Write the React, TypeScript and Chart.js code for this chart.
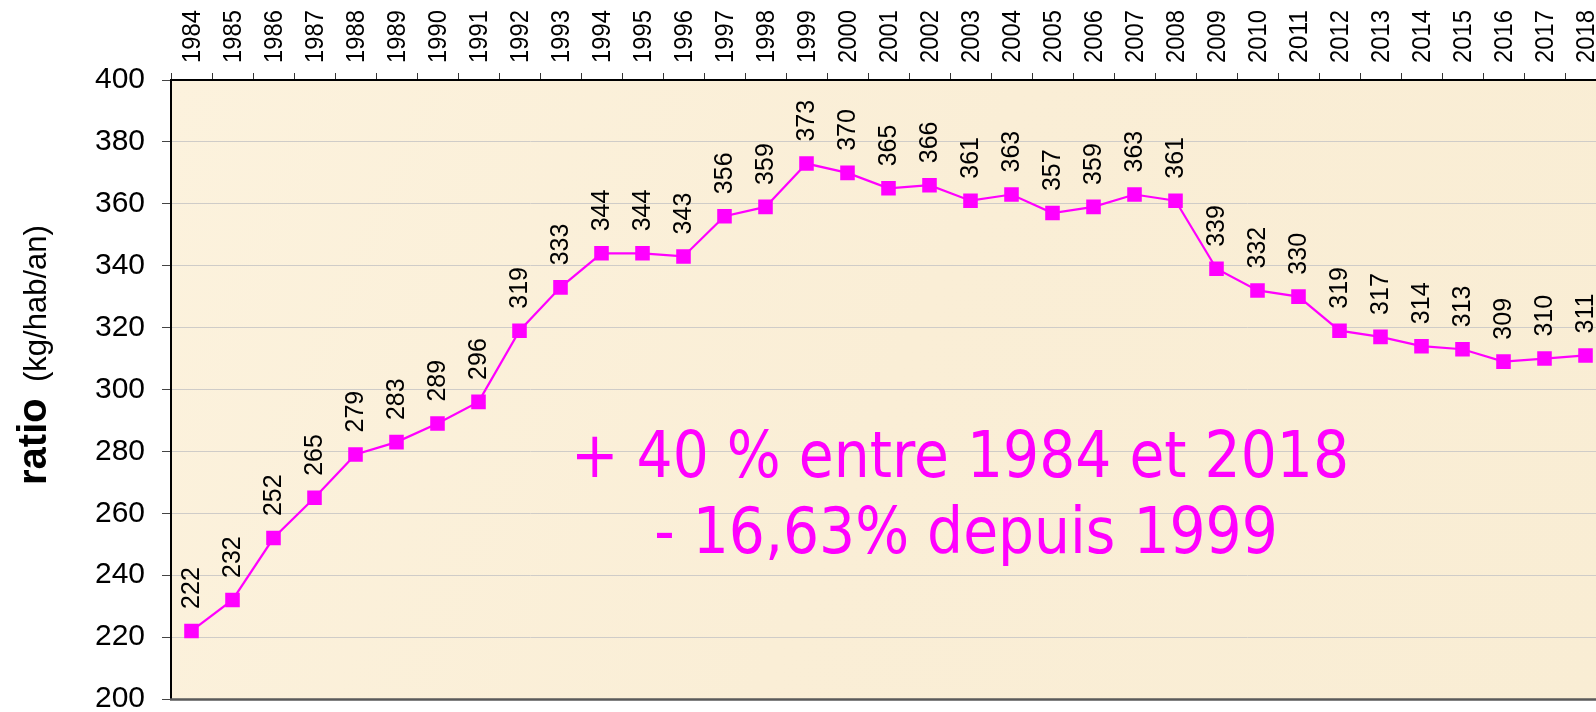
import React, { useEffect, useRef } from "react";
import { Chart, registerables } from "chart.js";

Chart.register(...registerables);

// ---- data ----
const years = [
  "1984", "1985", "1986", "1987", "1988", "1989", "1990", "1991", "1992", "1993",
  "1994", "1995", "1996", "1997", "1998", "1999", "2000", "2001", "2002", "2003",
  "2004", "2005", "2006", "2007", "2008", "2009", "2010", "2011", "2012", "2013",
  "2014", "2015", "2016", "2017", "2018",
];
const ratios = [
  222, 232, 252, 265, 279, 283, 289, 296, 319, 333,
  344, 344, 343, 356, 359, 373, 370, 365, 366, 361,
  363, 357, 359, 363, 361, 339, 332, 330, 319, 317,
  314, 313, 309, 310, 311,
];
const yMin = 200;
const yMax = 400;
const yStep = 20;
const noteLines = ["+ 40 % entre 1984 et 2018", "- 16,63% depuis 1999"];
const axisTitleBold = "ratio";
const axisTitleUnit = "(kg/hab/an)";

// ---- styles ----
const FONT = "'Liberation Sans', Arial, Helvetica, sans-serif";
const NOTE_FONT = "'DejaVu Sans', Verdana, sans-serif";
const MAGENTA = "#FF00FF";
const CW = 1620;
const CH = 712;

const backgroundPlugin = {
  id: "parchment",
  beforeDraw(chart: any) {
    const { ctx, chartArea: a } = chart;
    ctx.save();
    const g = ctx.createLinearGradient(a.left, a.top, a.right, a.bottom);
    g.addColorStop(0, "#FCF2DD");
    g.addColorStop(0.5, "#FAEED6");
    g.addColorStop(1, "#F9EDD4");
    ctx.fillStyle = g;
    ctx.fillRect(a.left, a.top, a.right - a.left, a.bottom - a.top);
    ctx.restore();
  },
};

const valueLabelPlugin = {
  id: "valueLabels",
  afterDatasetsDraw(chart: any) {
    const { ctx } = chart;
    const meta = chart.getDatasetMeta(0);
    ctx.save();
    ctx.font = `25px ${FONT}`;
    ctx.fillStyle = "#000";
    ctx.textAlign = "left";
    ctx.textBaseline = "middle";
    meta.data.forEach((pt: any, i: number) => {
      ctx.save();
      ctx.translate(pt.x + 1, pt.y - 22);
      ctx.rotate(-Math.PI / 2);
      ctx.fillText(String(Math.round(ratios[i])), 0, 0);
      ctx.restore();
    });
    ctx.restore();
  },
};

const decorPlugin = {
  id: "decor",
  afterDraw(chart: any) {
    const { ctx, chartArea: a } = chart;
    const xs = chart.scales.x;
    ctx.save();
    // bottom border
    ctx.strokeStyle = "#5a5a5a";
    ctx.lineWidth = 2.5;
    ctx.beginPath();
    ctx.moveTo(a.left - 1, a.bottom + 0.5);
    ctx.lineTo(a.right, a.bottom + 0.5);
    ctx.stroke();

    // category labels on the top axis (rotated)
    ctx.fillStyle = "#000";
    ctx.font = `26px ${FONT}`;
    ctx.textAlign = "left";
    ctx.textBaseline = "middle";
    years.forEach((yr, i) => {
      const x = xs.getPixelForValue(i);
      const w = ctx.measureText(yr).width;
      ctx.save();
      ctx.translate(x + 1, a.top - 17);
      ctx.rotate(-Math.PI / 2);
      ctx.scale(53 / w, 1);
      ctx.fillText(yr, 0, 0);
      ctx.restore();
    });

    // note text
    ctx.fillStyle = MAGENTA;
    ctx.font = `64px ${NOTE_FONT}`;
    ctx.textBaseline = "alphabetic";
    ctx.textAlign = "left";
    const w1 = ctx.measureText(noteLines[0]).width;
    const sx = 778 / w1;
    const centers = [960, 966];
    const baselines = [477, 553];
    noteLines.forEach((line, i) => {
      const w = ctx.measureText(line).width * sx;
      ctx.save();
      ctx.translate(centers[i] - w / 2, baselines[i]);
      ctx.scale(sx, 1);
      ctx.fillText(line, 0, 0);
      ctx.restore();
    });

    // y axis title: bold "ratio" + regular unit, rotated
    ctx.fillStyle = "#000";
    ctx.textAlign = "left";
    ctx.textBaseline = "alphabetic";
    ctx.save();
    ctx.translate(46, 485);
    ctx.rotate(-Math.PI / 2);
    ctx.font = `bold 40px ${FONT}`;
    ctx.fillText(axisTitleBold, 0, 0);
    ctx.font = `31px ${FONT}`;
    ctx.fillText(axisTitleUnit, 103, 0);
    ctx.restore();

    ctx.restore();
  },
};

export default function App() {
  const ref = useRef<HTMLCanvasElement | null>(null);

  useEffect(() => {
    if (!ref.current) return;
    const chart = new Chart(ref.current, {
      type: "line",
      data: {
        labels: years,
        datasets: [
          {
            data: ratios,
            borderColor: MAGENTA,
            backgroundColor: MAGENTA,
            borderWidth: 2.2,
            pointStyle: "rect",
            pointRadius: 10.3,
            pointHoverRadius: 10.3,
            pointBackgroundColor: MAGENTA,
            pointBorderWidth: 0,
            tension: 0,
            fill: false,
          },
        ],
      },
      options: {
        responsive: false,
        devicePixelRatio: 1,
        animation: false,
        layout: { padding: { left: 0, top: 0, right: CW - 1606, bottom: CH - 699 } },
        plugins: {
          legend: { display: false },
          tooltip: { enabled: false },
          title: { display: false },
        },
        scales: {
          x: {
            type: "category",
            position: "top",
            offset: true,
            grid: {
              offset: true,
              drawOnChartArea: false,
              drawTicks: true,
              tickLength: 7,
              tickColor: "#333",
              tickWidth: 1,
            },
            border: { display: true, color: "#000", width: 2 },
            ticks: {
              display: false,
              autoSkip: false,
            },
            afterFit(scale: any) {
              scale.height = 80;
              scale.paddingLeft = 0;
              scale.paddingRight = 0;
            },
          },
          y: {
            type: "linear",
            min: yMin,
            max: yMax,
            grid: {
              color: "#CFCCC8",
              lineWidth: 1,
              tickLength: 9,
              tickColor: "#444",
            },
            border: { display: true, color: "#000", width: 2 },
            ticks: {
              stepSize: yStep,
              padding: 17,
              color: "#000",
              font: { family: FONT, size: 30 },
            },
            afterFit(scale: any) {
              scale.width = 171;
              scale.paddingTop = 0;
              scale.paddingBottom = 0;
            },
          },
        },
      },
      plugins: [backgroundPlugin, valueLabelPlugin, decorPlugin],
    } as any);
    return () => chart.destroy();
  }, []);

  return (
    <div
      style={{
        position: "fixed",
        left: 0,
        top: 0,
        width: 1596,
        height: 712,
        overflow: "hidden",
        background: "#fff",
      }}
    >
      <canvas ref={ref} width={CW} height={CH} style={{ display: "block", width: CW, height: CH }} />
    </div>
  );
}
